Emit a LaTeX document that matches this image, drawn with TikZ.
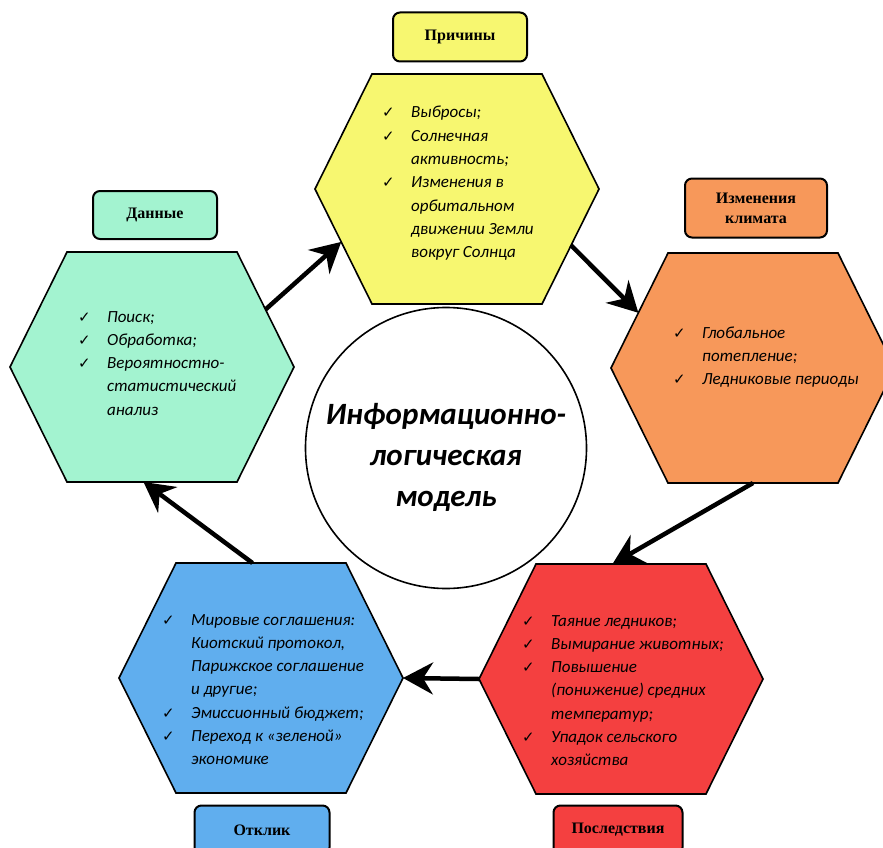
\documentclass[tikz,border=0pt]{standalone}
\usepackage{fontspec}
\setmainfont{Carlito}
\newfontfamily\titlefont{Liberation Serif}
\newfontfamily\symfont{DejaVu Sans}
\usetikzlibrary{arrows.meta,calc}
\definecolor{cyel}{RGB}{247,247,112}
\definecolor{cora}{RGB}{247,152,90}
\definecolor{cgrn}{RGB}{163,243,208}
\definecolor{cred}{RGB}{244,64,64}
\definecolor{cblu}{RGB}{96,174,238}
\newcommand\hexfont{\fontsize{17}{23.3}\selectfont\itshape}
\newcommand\ckitem{\makebox[29pt][l]{\symfont\fontsize{15}{15}\selectfont ✓}}
\newcommand\ckcont{\hspace*{29pt}}
\newcommand\hexagonshape[4]{%
  \path (#2-142,#3) coordinate (#1-l)
        (#2-85,#3-115) coordinate (#1-tl)
        (#2+85,#3-115) coordinate (#1-tr)
        (#2+142,#3) coordinate (#1-r)
        (#2+85,#3+115) coordinate (#1-br)
        (#2-85,#3+115) coordinate (#1-bl);
  \filldraw[hexline, fill=#4] (#1-l)--(#1-tl)--(#1-tr)--(#1-r)--(#1-br)--(#1-bl)--cycle;}
\tikzset{
  hexline/.style={draw=black, line width=1.6pt, line join=miter},
  hextext/.style={anchor=base west, inner sep=0pt},
  titlebox/.style={draw=black, line width=2pt, rounded corners=7pt, inner sep=0pt,
     font=\titlefont\bfseries\fontsize{16}{20}\selectfont, align=center},
  tipstyle/.tip={Stealth[length=30pt 0 0,width=32pt 0 0,inset=10pt 0]},
  flowarrow/.style={line width=4.5pt, -tipstyle},
}
\begin{document}
\begin{tikzpicture}[x=1pt,y=-1pt]
\useasboundingbox (0,0) rectangle (883,848);
\clip (0,0) rectangle (883,848);
% hexagons
\hexagonshape{Y}{457}{189}{cyel}
\hexagonshape{O}{753}{368}{cora}
\hexagonshape{G}{152}{367}{cgrn}
\hexagonshape{R}{621}{679}{cred}
\hexagonshape{B}{261}{678}{cblu}
% centre circle
\node[circle, draw, line width=1.6pt, minimum size=281pt, inner sep=0pt] (C) at (446,448) {};
\node[align=center, inner sep=0pt, font=\fontsize{31}{41}\selectfont\bfseries\itshape] (Ct) at (446,457)
  {Информационно-\\логическая\\модель};
% title boxes
\node[titlebox, fill=cyel, minimum width=134pt, minimum height=49pt] (Yt) at (460,37) {Причины};
\node[titlebox, fill=cora, minimum width=142pt, minimum height=59pt] (Ot) at (756,208) {Изменения\\климата};
\node[titlebox, fill=cgrn, minimum width=124pt, minimum height=48pt] (Gt) at (155,215) {Данные};
\node[titlebox, fill=cred, minimum width=129pt, minimum height=49pt] (Rt) at (618,830) {Последствия};
\node[titlebox, fill=cblu, minimum width=135pt, minimum height=49pt] (Bt) at (262,830) {Отклик};
% hexagon texts
\node[hextext] (Ytx) at (382,118) {\parbox[t]{250pt}{\hexfont
  \ckitem Выбросы;\\
  \ckitem Солнечная\\
  \ckcont активность;\\
  \ckitem Изменения в\\
  \ckcont орбитальном\\
  \ckcont движении Земли\\
  \ckcont вокруг Солнца}};
\node[hextext] (Otx) at (673,338) {\parbox[t]{250pt}{\hexfont
  \ckitem Глобальное\\
  \ckcont потепление;\\
  \ckitem Ледниковые периоды}};
\node[hextext] (Gtx) at (78,322) {\parbox[t]{250pt}{\hexfont
  \ckitem Поиск;\\
  \ckitem Обработка;\\
  \ckitem Вероятностно-\\
  \ckcont статистический\\
  \ckcont анализ}};
\node[hextext] (Rtx) at (522,626) {\parbox[t]{250pt}{\hexfont
  \ckitem Таяние ледников;\\
  \ckitem Вымирание животных;\\
  \ckitem Повышение\\
  \ckcont (понижение) средних\\
  \ckcont температур;\\
  \ckitem Упадок сельского\\
  \ckcont хозяйства}};
\node[hextext] (Btx) at (162,625) {\parbox[t]{250pt}{\hexfont
  \ckitem Мировые соглашения:\\
  \ckcont Киотский протокол,\\
  \ckcont Парижское соглашение\\
  \ckcont и другие;\\
  \ckitem Эмиссионный бюджет;\\
  \ckitem Переход к «зеленой»\\
  \ckcont экономике}};
% arrow end points on hexagon edges
\coordinate (a1s) at ($(G-tr)!0.5!(G-r)$);
\coordinate (a1e) at ($(Y-l)!0.46!(Y-bl)$);
\coordinate (a2s) at ($(Y-r)!0.49!(Y-br)$);
\coordinate (a2e) at ($(O-tl)!0.52!(O-l)$);
\coordinate (a3s) at ($(O-bl)!0.5!(O-br)$);
\coordinate (a3e) at ($(R-tl)!0.45!(R-tr)$);
\coordinate (a5s) at ($(B-tl)!0.45!(B-tr)$);
\coordinate (a5e) at ($(G-bl)!0.45!(G-br)$);
\draw[flowarrow] (a1s) -- (a1e);
\draw[flowarrow] (a2s) -- (a2e);
\draw[flowarrow] (a3s) -- (a3e);
\draw[flowarrow] (R-l) -- (B-r);
\draw[flowarrow] (a5s) -- (a5e);
\end{tikzpicture}
\end{document}
